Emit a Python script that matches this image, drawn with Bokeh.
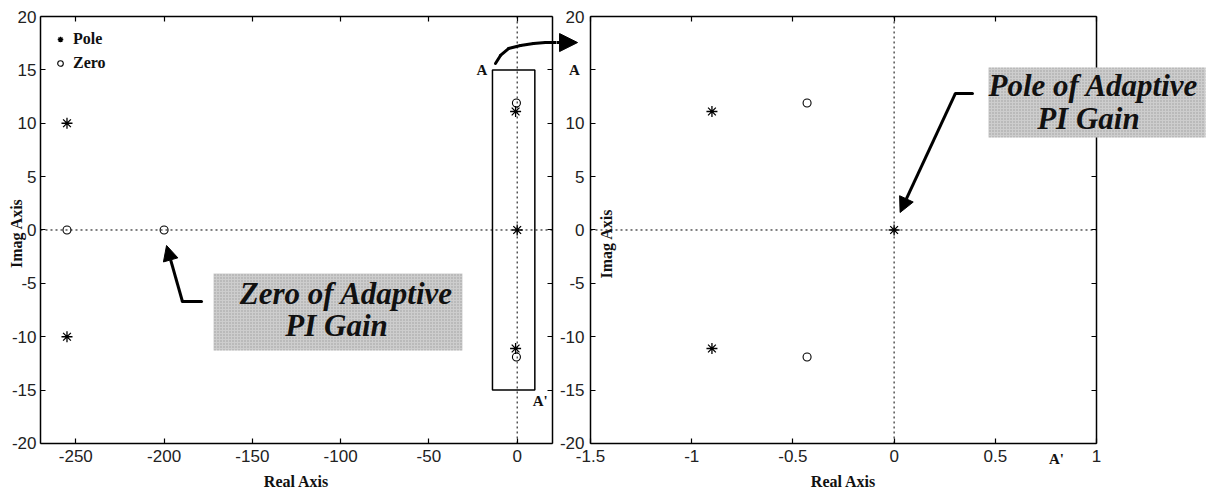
from bokeh.plotting import figure
from bokeh.models import (BoxAnnotation, Label, Arrow, NormalHead, ColumnDataSource,
                          LinearAxis, FixedTicker, Legend, LegendItem, Range1d)
from bokeh.layouts import row
from bokeh.embed import file_html
from bokeh.resources import INLINE
import math

# ---------------- data ----------------
full_pole_re = [-255, -255, -0.9, -0.9, 0.0]
full_pole_im = [10, -10, 11.1, -11.1, 0.0]
full_zero_re = [-255, -200, -0.43, -0.43]
full_zero_im = [0, 0, 11.9, -11.9]

zoom_pole_re = [-0.9, -0.9, 0.0]
zoom_pole_im = [11.1, -11.1, 0.0]
zoom_zero_re = [-0.43, -0.43]
zoom_zero_im = [11.9, -11.9]

left_x_ticks = [-250, -200, -150, -100, -50, 0]
left_x_labels = ["-250", "-200", "-150", "-100", "-50", "0"]
right_x_ticks = [-1.5, -1, -0.5, 0, 0.5, 1]
right_x_labels = ["-1.5", "-1", "-0.5", "0", "0.5", "1"]
y_ticks = [-20, -15, -10, -5, 0, 5, 10, 15, 20]
y_labels = ["-20", "-15", "-10", "-5", "0", "5", "10", "15", "20"]
right_y_labels = ["-20", "-15", "-10", "-5", "0", "5", "10", "", "20"]

# axes boxes (data limits of each panel)
left_xlim = (-270, 20)
right_xlim = (-1.5, 1)
ylim = (-20, 20)

SANS = "Liberation Sans"
SERIF = "Liberation Serif"


def axis(ticks, labels, loc, bounds, standoff, show_labels=True):
    return LinearAxis(ticker=FixedTicker(ticks=ticks),
                      major_label_overrides={t: (s if show_labels else "") for t, s in zip(ticks, labels)},
                      fixed_location=loc, bounds=bounds,
                      major_label_standoff=standoff,
                      major_label_text_font=SANS, major_label_text_font_size="17px",
                      major_label_text_color="#222222",
                      major_tick_in=5, major_tick_out=0, minor_tick_in=0, minor_tick_out=0,
                      major_tick_line_color="black", major_tick_line_width=1.2,
                      axis_line_width=1.5, axis_line_color="black")


def build_axes(p, xlim, xticks, xlabels, ylabels, ystand):
    p.add_layout(axis(xticks, xlabels, ylim[0], xlim, 7), "below")
    p.add_layout(axis(y_ticks, ylabels, xlim[0], ylim, ystand), "left")
    p.add_layout(axis(xticks, xlabels, ylim[1], xlim, 0, False), "above")
    p.add_layout(axis(y_ticks, ylabels, xlim[1], ylim, 0, False), "right")
    # dotted zero lines
    p.add_layout(Arrow(x_start=xlim[0], y_start=0, x_end=xlim[1], y_end=0, end=None,
                       line_dash="2 3", line_color="black", line_width=1))
    p.add_layout(Arrow(x_start=0, y_start=ylim[0], x_end=0, y_end=ylim[1], end=None,
                       line_dash="2 3", line_color="black", line_width=1))


def make_fig(width, xr, yr):
    p = figure(width=width, height=494, x_range=Range1d(*xr), y_range=Range1d(*yr),
               output_backend="svg", toolbar_location=None,
               x_axis_location=None, y_axis_location=None,
               min_border_left=0, min_border_right=0, min_border_top=0, min_border_bottom=0)
    p.xgrid.visible = False
    p.ygrid.visible = False
    p.outline_line_color = None
    p.background_fill_color = "white"
    p.border_fill_color = "white"
    return p


def line_path(p, xs, ys, width=3):
    src = ColumnDataSource(dict(x0=xs[:-1], y0=ys[:-1], x1=xs[1:], y1=ys[1:]))
    p.add_layout(Arrow(x_start="x0", y_start="y0", x_end="x1", y_end="y1", source=src,
                       end=None, line_width=width, line_color="black", line_cap="round"))


def head_arrow(p, x0, y0, x1, y1, size=15, width=3):
    p.add_layout(Arrow(x_start=x0, y_start=y0, x_end=x1, y_end=y1,
                       end=NormalHead(size=size, fill_color="black", line_color="black"),
                       line_width=width, line_color="black"))


def text(p, s, x, y, size="16px", style="bold", font=SERIF, angle=0.0):
    p.add_layout(Label(x=x, y=y, text=s, text_font=font, text_font_size=size,
                       text_font_style=style, text_align="center", text_baseline="middle",
                       text_color="#111111", angle=angle))


def note_box(p, l, r, t, b):
    p.add_layout(BoxAnnotation(left=l, right=r, top=t, bottom=b,
                               fill_color="#cdcdcd", fill_alpha=1, line_alpha=0,
                               hatch_pattern=".", hatch_color="#7a7a7a", hatch_scale=3,
                               hatch_alpha=0.6))


# ---------------- left panel ----------------
p1 = make_fig(556, (-292.66, 22.27), (-24.78, 21.50))
build_axes(p1, left_xlim, left_x_ticks, left_x_labels, y_labels, 4)

r_pole = p1.scatter(full_pole_re, full_pole_im, marker="asterisk", size=11,
                    line_color="black", line_width=1.3)
r_zero = p1.scatter(full_zero_re, full_zero_im, marker="circle", size=8,
                    fill_color=None, line_color="black", line_width=1.1)

leg = Legend(items=[LegendItem(label="Pole", renderers=[r_pole]),
                    LegendItem(label="Zero", renderers=[r_zero])],
             location=(48, 416), margin=0, padding=5, spacing=4,
             glyph_width=14, glyph_height=20, label_height=20, label_standoff=6,
             background_fill_alpha=0, border_line_alpha=0,
             label_text_font=SERIF, label_text_font_style="bold",
             label_text_font_size="16px", label_text_color="#111111")
p1.add_layout(leg)

# zoom rectangle A-A'
p1.add_layout(BoxAnnotation(left=-14, right=10, bottom=-15, top=15, fill_alpha=0,
                            line_color="black", line_alpha=1, line_width=1.5))
text(p1, "A", -20, 15, size="15px")
text(p1, "A'", 13, -16, size="15px")
text(p1, "Imag Axis", -283.6, -0.3, size="16px", angle=math.pi / 2)
text(p1, "Real Axis", -125, -23.55, size="16px")

# note "Zero of Adaptive PI Gain"
note_box(p1, -172, -31, -4.07, -11.29)
text(p1, "Zero of Adaptive", -96.7, -5.95, size="31px", style="bold italic")
text(p1, "PI Gain", -102.3, -8.95, size="31px", style="bold italic")
line_path(p1, [-178.8, -189.6], [-6.70, -6.70])
head_arrow(p1, -189.6, -6.70, -198.6, -1.45, size=15)

# curved arrow towards zoom panel (first part)
line_path(p1, [-12.3, -9.45, -4.9, 1.9, 9.24, 16.0, 24.0],
          [15.6, 16.35, 17.0, 17.28, 17.47, 17.56, 17.56])

# ---------------- right panel ----------------
p2 = make_fig(664, (-1.668, 1.6126), (-24.78, 21.50))
build_axes(p2, right_xlim, right_x_ticks, right_x_labels, right_y_labels, 6)

p2.scatter(zoom_pole_re, zoom_pole_im, marker="asterisk", size=11,
           line_color="black", line_width=1.3)
p2.scatter(zoom_zero_re, zoom_zero_im, marker="circle", size=8,
           fill_color=None, line_color="black", line_width=1.1)

text(p2, "A", -1.579, 15, size="15px")
text(p2, "A'", 0.802, -21.45, size="15px")
text(p2, "Imag Axis", -1.42, -1.27, size="16px", angle=math.pi / 2)
text(p2, "Real Axis", -0.25, -23.55, size="16px")

# curved arrow (head part)
head_arrow(p2, -1.75, 17.56, -1.564, 17.56, size=18)

# note "Pole of Adaptive PI Gain"
note_box(p2, 0.466, 1.539, 15.22, 8.67)
text(p2, "Pole of Adaptive", 0.985, 13.54, size="31px", style="bold italic")
text(p2, "PI Gain", 0.960, 10.44, size="31px", style="bold italic")
line_path(p2, [0.387, 0.303], [12.79, 12.79])
head_arrow(p2, 0.303, 12.79, 0.0296, 1.64, size=15)

layout = row(p1, p2)
open("out.html", "w").write(file_html(layout, INLINE))
